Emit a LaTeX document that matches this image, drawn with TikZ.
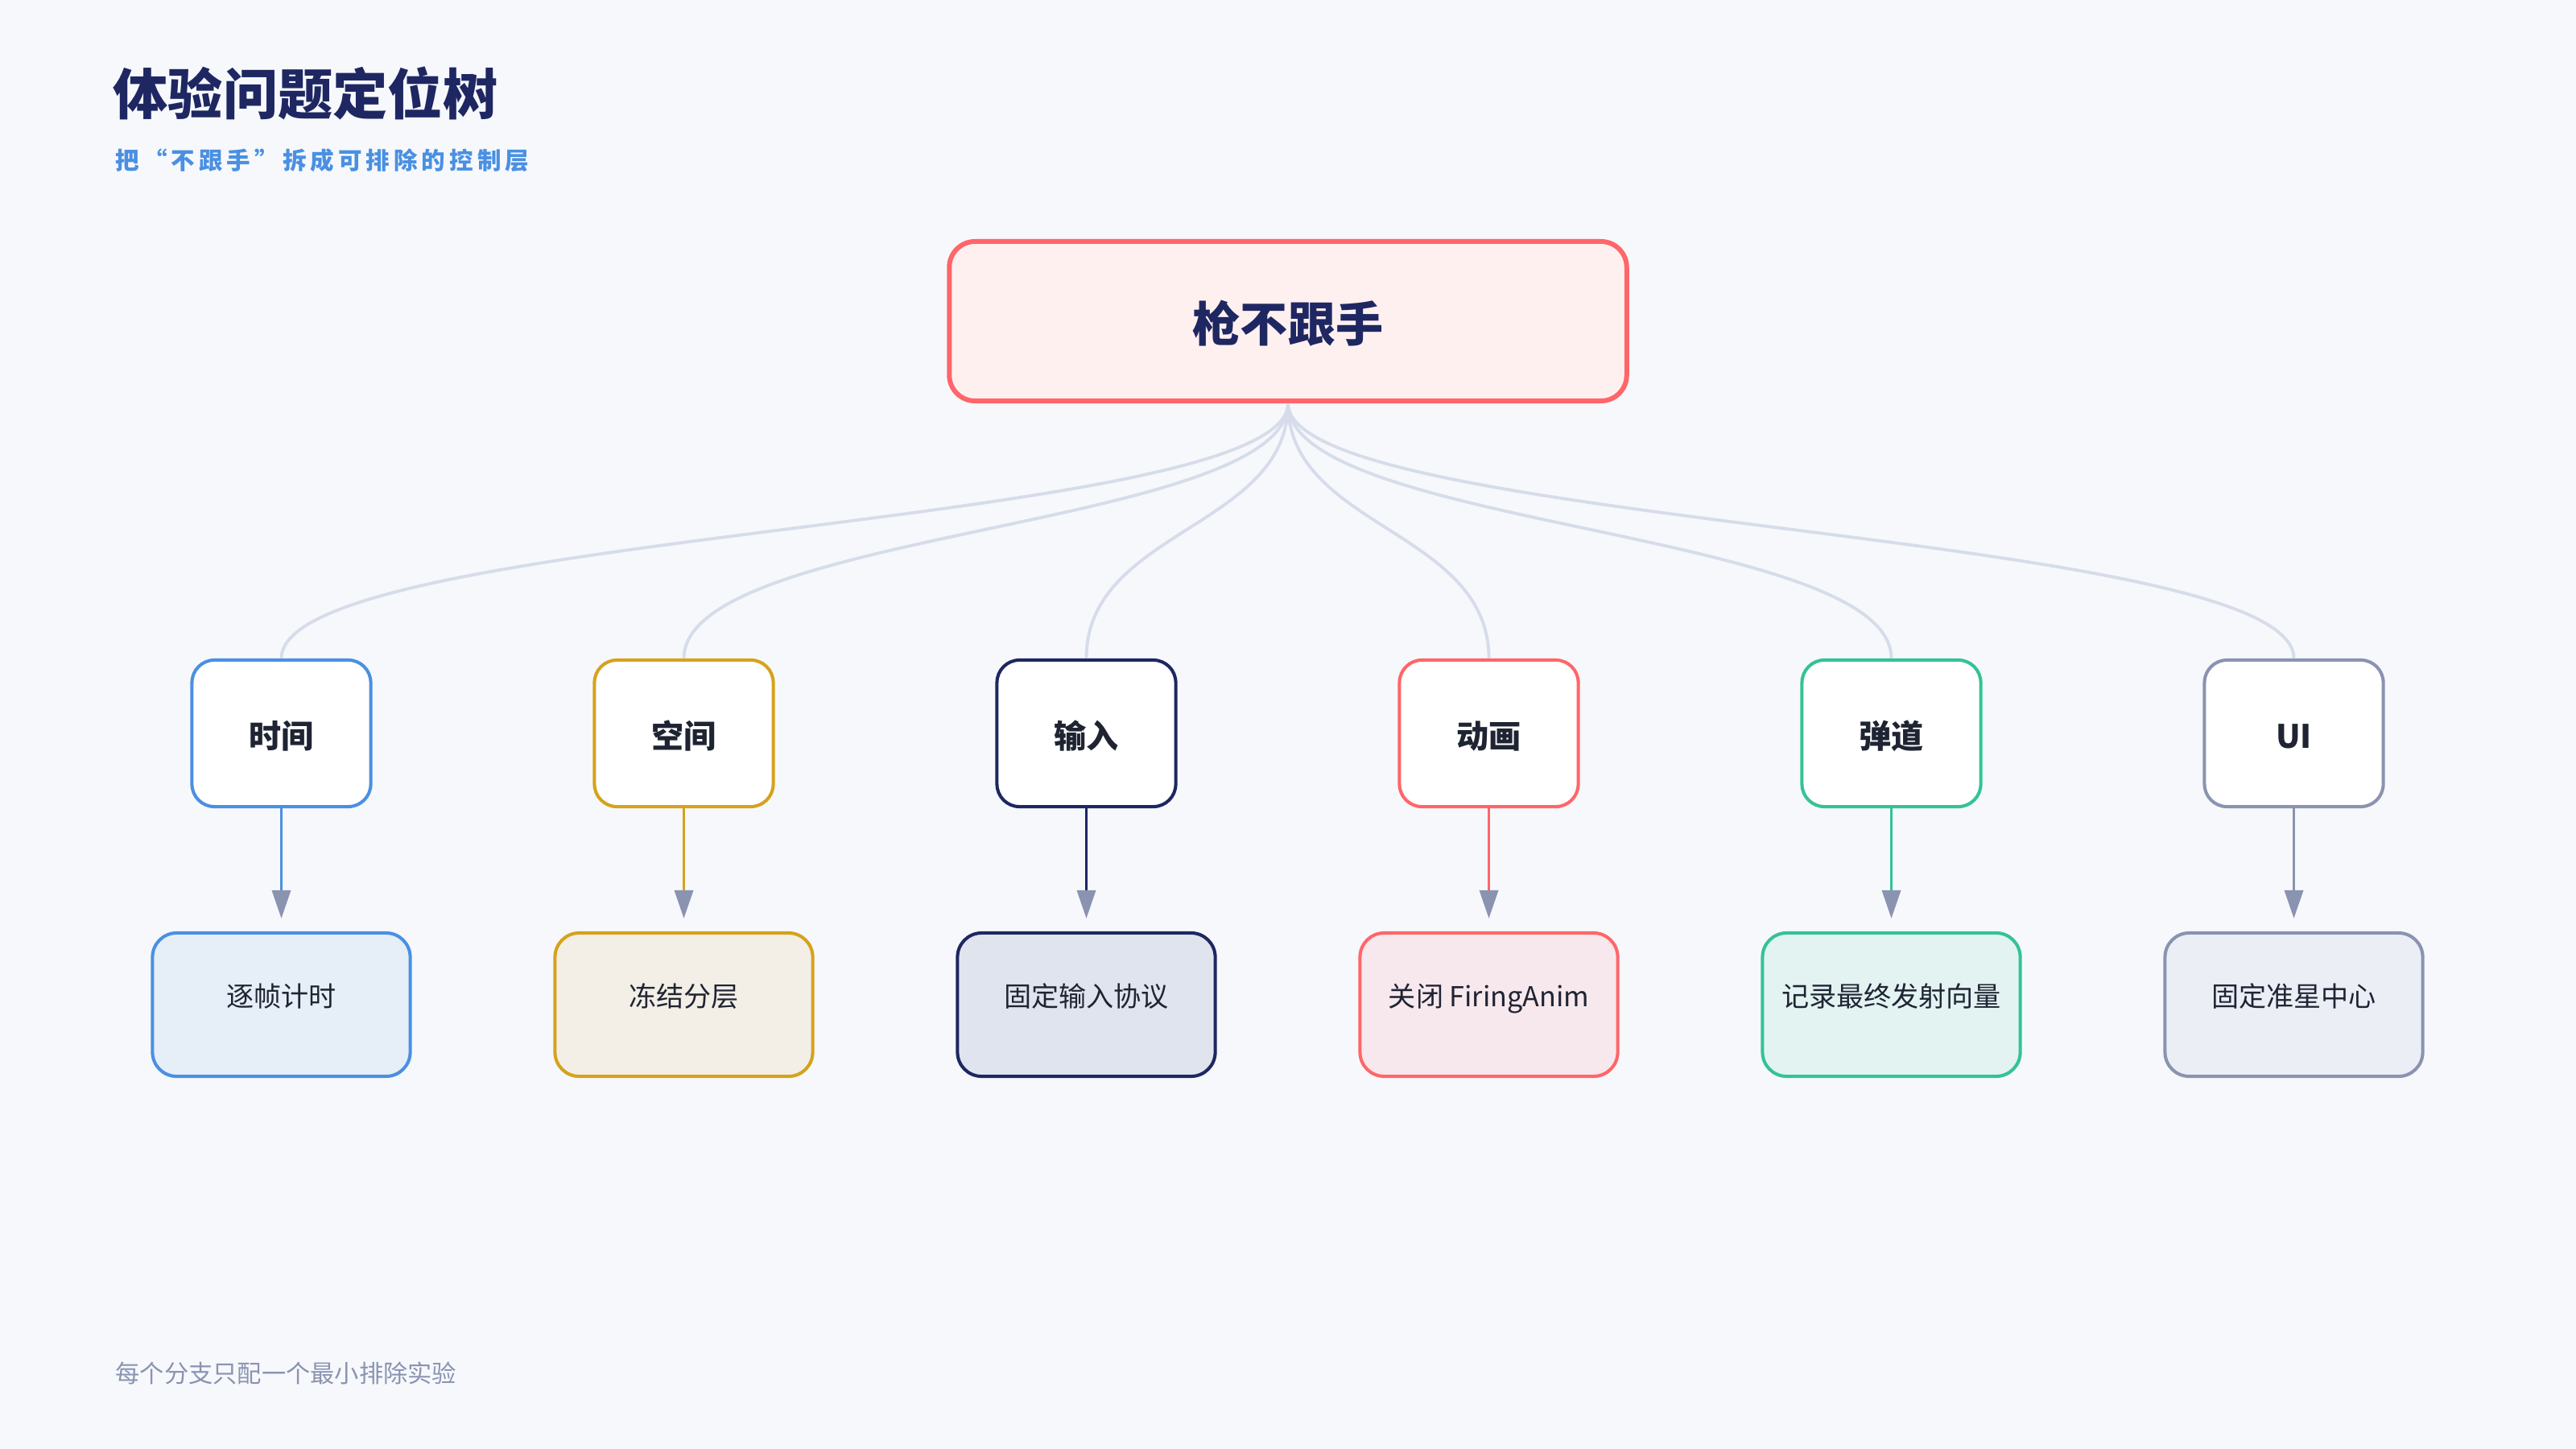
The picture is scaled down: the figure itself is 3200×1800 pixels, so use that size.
\documentclass[tikz,border=0pt]{standalone}
\usepackage{fontspec}
\setmainfont{Noto Sans CJK SC}
\usepackage{tikz}
\usetikzlibrary{arrows.meta}
\definecolor{bgc}{HTML}{F6F8FC}
\definecolor{ink}{HTML}{1F2433}
\definecolor{navy}{HTML}{1E2761}
\definecolor{cblue}{HTML}{4A90E2}
\definecolor{cblueL}{HTML}{E6EEF8}
\definecolor{cgold}{HTML}{D6A21C}
\definecolor{cgoldL}{HTML}{F3EFE6}
\definecolor{cnavyL}{HTML}{E0E4EE}
\definecolor{cred}{HTML}{FF6669}
\definecolor{credL}{HTML}{F6E8EC}
\definecolor{rootL}{HTML}{FFF0F0}
\definecolor{cgreen}{HTML}{33C394}
\definecolor{cgreenL}{HTML}{E2F3F2}
\definecolor{cgray}{HTML}{8A93B0}
\definecolor{cgrayL}{HTML}{EBEEF5}
\definecolor{curve}{HTML}{D6DCE9}

\begin{document}
\begin{tikzpicture}[x=0.01cm,y=-0.01cm,
  root/.style={draw=cred,fill=rootL,line width=1.7pt,rounded corners=0.32cm,minimum width=8.41cm,minimum height=1.98cm,inner sep=0pt,text height=0.55cm,text depth=0.05cm,font=\fontsize{16.8}{18}\selectfont\bfseries,text=navy},
  cat/.style={draw=#1,fill=white,line width=1.15pt,rounded corners=0.28cm,minimum width=2.22cm,minimum height=1.82cm,inner sep=0pt,text height=0.40cm,text depth=0.04cm,font=\fontsize{11.4}{13}\selectfont\bfseries,text=ink},
  leaf/.style 2 args={draw=#1,fill=#2,line width=1.15pt,rounded corners=0.3cm,minimum width=3.2cm,minimum height=1.78cm,inner sep=0pt,text height=0.30cm,text depth=0.26cm,font=\fontsize{9.7}{11}\selectfont,text=ink},
  branch/.style={draw=curve,line width=1.1pt},
  link/.style={draw=#1,line width=1pt,-{Triangle[length=0.35cm,width=0.23cm,color=cgray]},shorten >=0.16cm}]
\fill[bgc] (0,0) rectangle (3200,1800);
\useasboundingbox (0,0) rectangle (3200,1800);

\node[anchor=west,inner sep=0pt,text=navy,font=\fontsize{19.4}{21}\selectfont\bfseries] (title) at (140,116) {体验问题定位树};
\node[anchor=west,inner sep=0pt,text=cblue,font=\fontsize{8.4}{10}\selectfont\bfseries\addfontfeature{LetterSpace=17}] (sub) at (143,199) {把“不跟手”拆成可排除的控制层};

\node[root] (gun) at (1600,399) {枪不跟手};

\node[cat=cblue] (time) at (349.5,911) {时间};
\node[cat=cgold] (space) at (849.5,911) {空间};
\node[cat=navy] (input) at (1349.5,911) {输入};
\node[cat=cred] (anim) at (1849.5,911) {动画};
\node[cat=cgreen] (ballis) at (2349.5,911) {弹道};
\node[cat=cgray] (ui) at (2849.5,911) {UI};

\node[leaf={cblue}{cblueL}] (timeL) at (349.5,1248) {逐帧计时};
\node[leaf={cgold}{cgoldL}] (spaceL) at (849.5,1248) {冻结分层};
\node[leaf={navy}{cnavyL}] (inputL) at (1349.5,1248) {固定输入协议};
\node[leaf={cred}{credL}] (animL) at (1849.5,1248) {关闭 FiringAnim};
\node[leaf={cgreen}{cgreenL}] (ballisL) at (2349.5,1248) {记录最终发射向量};
\node[leaf={cgray}{cgrayL}] (uiL) at (2849.5,1248) {固定准星中心};

\draw[branch] (gun.south) .. controls +(0,155) and +(0,-160) .. (time.north);
\draw[branch] (gun.south) .. controls +(0,155) and +(0,-160) .. (space.north);
\draw[branch] (gun.south) .. controls +(0,155) and +(0,-160) .. (input.north);
\draw[branch] (gun.south) .. controls +(0,155) and +(0,-160) .. (anim.north);
\draw[branch] (gun.south) .. controls +(0,155) and +(0,-160) .. (ballis.north);
\draw[branch] (gun.south) .. controls +(0,155) and +(0,-160) .. (ui.north);

\draw[link=cblue] (time) -- (timeL);
\draw[link=cgold] (space) -- (spaceL);
\draw[link=navy] (input) -- (inputL);
\draw[link=cred] (anim) -- (animL);
\draw[link=cgreen] (ballis) -- (ballisL);
\draw[link=cgray] (ui) -- (uiL);

\node[anchor=west,inner sep=0pt,text=cgray,font=\fontsize{8.6}{10}\selectfont] (note) at (143,1706) {每个分支只配一个最小排除实验};
\end{tikzpicture}
\end{document}
